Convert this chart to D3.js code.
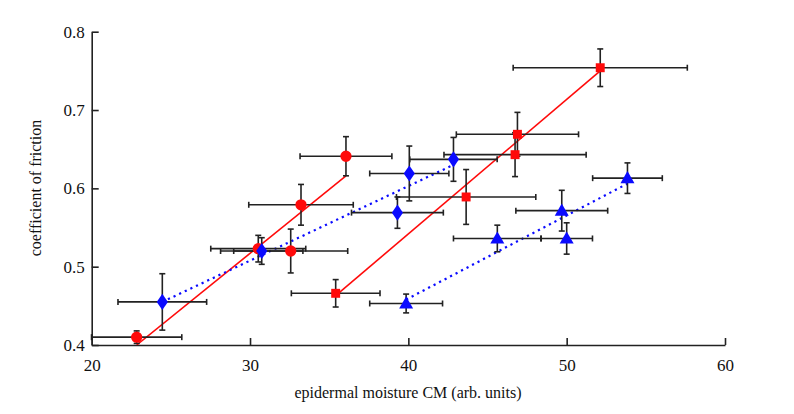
<!DOCTYPE html>
<html><head><meta charset="utf-8">
<script src="https://cdn.jsdelivr.net/npm/d3@7"></script>
<style>body{margin:0;background:#fff}svg{display:block}</style>
</head><body>
<svg id="c" width="794" height="414"></svg>
<script>
// ---- data ----
const xTicks = [20, 30, 40, 50, 60];
const yTicks = [0.4, 0.5, 0.6, 0.7, 0.8];
const xLabel = "epidermal moisture CM (arb. units)";
const yLabel = "coefficient of friction";

// red circles
const circX   = [22.84, 30.52, 32.57, 33.22, 36.06];
const circY   = [0.410, 0.523, 0.520, 0.579, 0.641];
const circXe  = [2.85, 3.0, 3.6, 3.3, 2.9];
const circYe  = [0.008, 0.017, 0.028, 0.026, 0.025];
const circFit = [[22.84, 0.400], [36.06, 0.616]];

// blue diamonds
const diaX   = [24.46, 30.74, 39.31, 40.06, 42.85];
const diaY   = [0.455, 0.520, 0.569, 0.619, 0.637];
const diaXe  = [2.8, 2.6, 2.9, 2.5, 2.76];
const diaYe  = [0.036, 0.017, 0.020, 0.035, 0.028];
const diaFit = [[24.46, 0.455], [42.85, 0.630]];

// red squares
const sqX   = [35.41, 43.65, 46.74, 46.89, 52.12];
const sqY   = [0.466, 0.589, 0.643, 0.669, 0.754];
const sqXe  = [2.8, 4.4, 4.49, 3.86, 5.5];
const sqYe  = [0.0175, 0.035, 0.028, 0.028, 0.024];
const sqFit = [[35.41, 0.463], [52.12, 0.750]];

// blue triangles
const triX   = [39.86, 45.62, 49.69, 50.00, 53.84];
const triY   = [0.453, 0.536, 0.5715, 0.536, 0.613];
const triXe  = [2.3, 2.77, 2.9, 1.63, 2.2];
const triYe  = [0.012, 0.017, 0.026, 0.020, 0.0195];
const triFit = [[39.86, 0.458], [53.84, 0.606]];

// ---- drawing ----
const svg = d3.select("#c");
const x = d3.scaleLinear().domain([20, 60]).range([91.7, 725]);
const y = d3.scaleLinear().domain([0.4, 0.8]).range([345, 31.7]);
const RED = "#ff0a0a", BLUE = "#0a0aff", INK = "#222";
const FONT = '"Liberation Serif"';

// axes
const xAxis = d3.axisBottom(x).tickValues(xTicks).tickSizeInner(-7).tickSizeOuter(0).tickPadding(14).tickFormat(d3.format("d"));
const yAxis = d3.axisLeft(y).tickValues(yTicks).tickSizeInner(-7).tickSizeOuter(0).tickPadding(7).tickFormat(d3.format(".1f"));
const gx = svg.append("g").attr("transform", `translate(0,${y(0.4)})`).call(xAxis);
const gy = svg.append("g").attr("transform", `translate(${x(20)},0)`).call(yAxis);
[gx, gy].forEach(g => {
  g.attr("font-family", null);
  g.select(".domain").attr("stroke", INK).attr("stroke-width", 1.6);
  g.selectAll(".tick line").attr("stroke", INK).attr("stroke-width", 1.6);
  g.selectAll(".tick text").attr("fill", "#111").style("font-family", FONT).style("font-size", "17px");
});

svg.append("text").attr("x", 408).attr("y", 398).attr("text-anchor", "middle")
  .style("font-family", FONT).style("font-size", "16px").attr("fill", "#111").text(xLabel);
svg.append("text").attr("transform", "translate(41,188) rotate(-90)").attr("text-anchor", "middle")
  .style("font-family", FONT).style("font-size", "16px").attr("fill", "#111").text(yLabel);

const series = [
  {xs: circX, ys: circY, xe: circXe, ye: circYe, fit: circFit, color: RED, dash: null, shape: d3.symbolCircle, size: 100},
  {xs: diaX, ys: diaY, xe: diaXe, ye: diaYe, fit: diaFit, color: BLUE, dash: "2.2,4", shape: d3.symbolDiamond, size: 75},
  {xs: sqX, ys: sqY, xe: sqXe, ye: sqYe, fit: sqFit, color: RED, dash: null, shape: d3.symbolSquare, size: 80},
  {xs: triX, ys: triY, xe: triXe, ye: triYe, fit: triFit, color: BLUE, dash: "2.2,4", shape: d3.symbolTriangle, size: 85},
];

svg.append("clipPath").attr("id", "plot").append("rect")
  .attr("x", x(20)).attr("y", 0).attr("width", x(60) - x(20)).attr("height", y(0.4));

// fit lines
const line = d3.line().x(d => x(d[0])).y(d => y(d[1]));
series.forEach(s => {
  svg.append("path").attr("d", line(s.fit)).attr("fill", "none").attr("stroke", s.color)
    .attr("stroke-width", s.dash ? 2.2 : 1.6).attr("stroke-dasharray", s.dash)
    .attr("clip-path", "url(#plot)");
});

// error bars
const cap = 3;
series.forEach(s => {
  const g = svg.append("g").attr("stroke", INK).attr("stroke-width", 1.6).attr("fill", "none");
  s.xs.forEach((xv, i) => {
    const px = x(xv), py = y(s.ys[i]);
    const x0 = x(xv - s.xe[i]), x1 = x(xv + s.xe[i]);
    const y0 = y(s.ys[i] - s.ye[i]), y1 = y(s.ys[i] + s.ye[i]);
    const yb = Math.min(y0, y(0.4));
    g.append("line").attr("x1", x0).attr("x2", x1).attr("y1", py).attr("y2", py);
    g.append("line").attr("x1", x0).attr("x2", x0).attr("y1", py - cap).attr("y2", py + cap);
    g.append("line").attr("x1", x1).attr("x2", x1).attr("y1", py - cap).attr("y2", py + cap);
    g.append("line").attr("x1", px).attr("x2", px).attr("y1", y1).attr("y2", yb);
    g.append("line").attr("x1", px - cap).attr("x2", px + cap).attr("y1", y1).attr("y2", y1);
    if (y0 <= y(0.4)) g.append("line").attr("x1", px - cap).attr("x2", px + cap).attr("y1", y0).attr("y2", y0);
  });
});

// markers
series.forEach(s => {
  const sym = d3.symbol().type(s.shape).size(s.size);
  svg.append("g").selectAll("path").data(s.xs).join("path")
    .attr("d", sym)
    .attr("transform", (d, i) => {
      const dy = s.shape === d3.symbolTriangle ? 1 : 0;
      const sc = s.shape === d3.symbolDiamond ? "scale(1.2,1)" : "";
      return `translate(${x(d)},${y(s.ys[i]) + dy}) ${sc}`;
    })
    .attr("fill", s.color);
});
</script>
</body></html>
